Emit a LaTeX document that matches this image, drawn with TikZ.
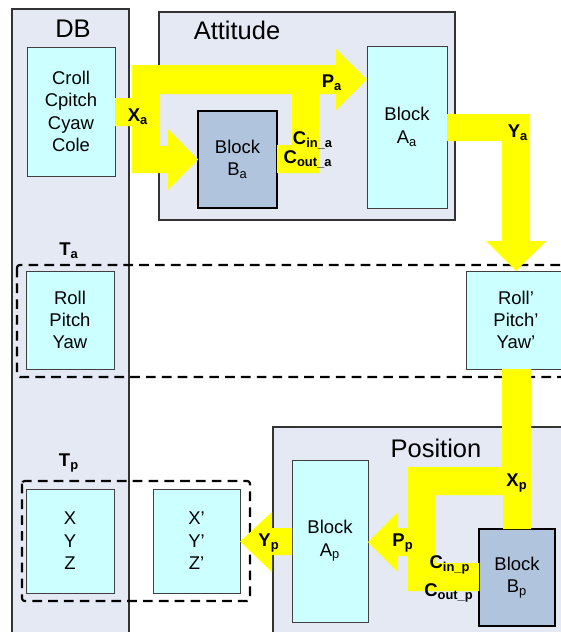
\documentclass[tikz,border=0pt]{standalone}
\usepackage{fontspec}
\setmainfont{Liberation Sans}
\definecolor{panelblue}{HTML}{E4E9F4}
\definecolor{cyanbox}{HTML}{CCFFFF}
\definecolor{steelbox}{HTML}{B0C4DE}
\definecolor{arrowyellow}{HTML}{FFFF00}

\begin{document}
\begin{tikzpicture}[x=0.02cm, y=-0.02cm,
  panel/.style={draw=black!80, fill=panelblue, line width=0.6pt},
  block/.style={draw=black!75, fill=cyanbox, line width=0.5pt, align=center, inner sep=0pt, font=\fontsize{10.5}{12.75}\selectfont},
  subblock/.style={block, draw=black, fill=steelbox, line width=1.4pt},
  group/.style={draw=black, line width=1.2pt, dash pattern=on 5.5pt off 3.5pt, rounded corners=1.5pt},
  title/.style={font=\fontsize{14.5}{17}\selectfont},
  tag/.style={font=\fontsize{10.5}{12}\selectfont\bfseries, inner sep=0pt},
  fatarrow/.style={fill=arrowyellow}]
\useasboundingbox (0,0) rectangle (561,632);

% frames
\draw[panel] (12,9) rectangle (129,645);
\draw[panel] (159,12) rectangle (455,220);
\draw[panel] (273,427) rectangle (575,645);
\node[title] (db) at (73,29) {DB};
\node[title] (attitude) at (237,30) {Attitude};
\node[title] (position) at (436,448) {Position};

% attitude
\node[block, minimum width=1.76cm, minimum height=2.58cm] (croll) at (71,111.5) {Croll\\Cpitch\\Cyaw\\Cole};
\node[subblock, minimum width=1.58cm, minimum height=1.94cm] (Ba) at (237.5,159.5) {Block\\B\textsubscript{a}};
\node[block, minimum width=1.6cm, minimum height=3.24cm] (Aa) at (407,127) {Block\\A\textsubscript{a}};

% transfer
\draw[group] (17,265) rectangle (575,377);
\node[tag] (Ta) at (69,251) {T\textsubscript{a}};
\node[block, minimum width=1.76cm, minimum height=1.96cm] (rpy) at (70,320) {Roll\\Pitch\\Yaw};
\node[block, minimum width=2cm, minimum height=1.96cm] (rpy2) at (516,320) {Roll’\\Pitch’\\Yaw’};

% position
\node[block, minimum width=1.52cm, minimum height=3.24cm] (Ap) at (330,541) {Block\\A\textsubscript{p}};
\node[subblock, minimum width=1.52cm, minimum height=1.94cm] (Bp) at (517,577.5) {Block\\B\textsubscript{p}};
\draw[group] (22,481) rectangle (250,601);
\node[tag] (Tp) at (69,463) {T\textsubscript{p}};
\node[block, minimum width=1.76cm, minimum height=2.08cm] (xyz) at (70,541) {X\\Y\\Z};
\node[block, minimum width=1.74cm, minimum height=2.08cm] (xyz2) at (196.5,541) {X’\\Y’\\Z’};

% fat arrows
\fill[fatarrow] (115,98) -- (132,98) -- (132,65) -- (336,65) -- (336,49) -- (367,79.5)
  -- (336,110) -- (336,94) -- (319,94) -- (319,173) -- (277,173) -- (277,145)
  -- (292,145) -- (292,94) -- (160,94) -- (160,146) -- (168,146) -- (168,129)
  -- (198,159.5) -- (168,190) -- (168,173) -- (132,173) -- (132,126) -- (115,126) -- cycle;
\fill[fatarrow] (447,114) -- (530,114) -- (530,241) -- (546,241) -- (516,271)
  -- (486,241) -- (502,241) -- (502,141) -- (447,141) -- cycle;
\fill[fatarrow] (502,369) -- (531,369) -- (531,529) -- (503,529) -- (503,495)
  -- (435,495) -- (435,563) -- (479,563) -- (479,591) -- (408,591) -- (408,556)
  -- (398,556) -- (398,572) -- (368,542) -- (398,512) -- (398,528) -- (408,528)
  -- (408,467) -- (502,467) -- cycle;
\fill[fatarrow] (292,528) -- (292,555) -- (272,555) -- (272,572) -- (240,541.5)
  -- (272,512) -- (272,528) -- cycle;

% labels
\node[tag] (Xa) at (138,117) {X\textsubscript{a}};
\node[tag] (Pa) at (332,83) {P\textsubscript{a}};
\node[tag] (Cina) at (313,140) {C\textsubscript{in\_a}};
\node[tag] (Couta) at (308,159) {C\textsubscript{out\_a}};
\node[tag] (Ya) at (518,133) {Y\textsubscript{a}};
\node[tag] (Xp) at (517,483) {X\textsubscript{p}};
\node[tag] (Pp) at (403,543) {P\textsubscript{p}};
\node[tag] (Cinp) at (450,565) {C\textsubscript{in\_p}};
\node[tag] (Coutp) at (449,593) {C\textsubscript{out\_p}};
\node[tag] (Yp) at (269,543) {Y\textsubscript{p}};
\end{tikzpicture}
\end{document}
